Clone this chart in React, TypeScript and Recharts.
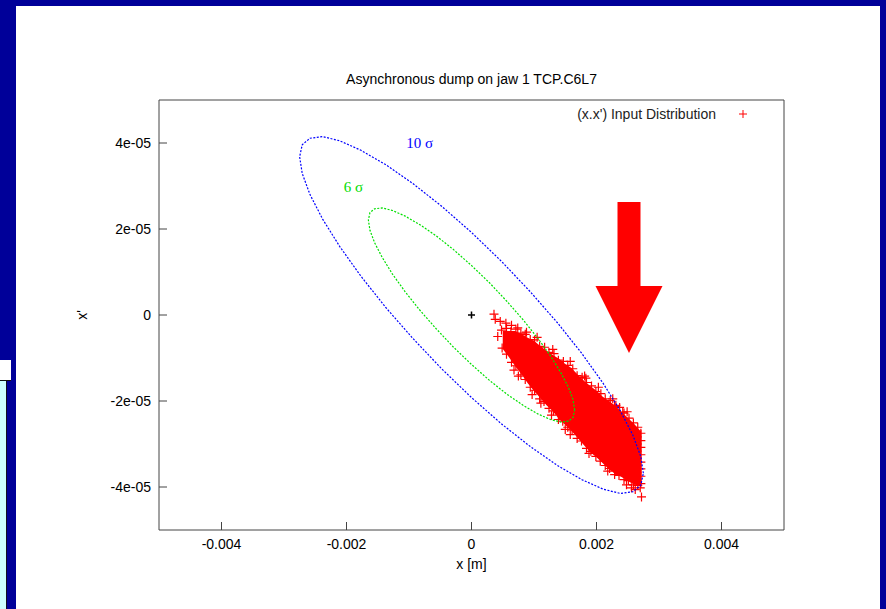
import { ComposedChart, Area, Scatter, XAxis, YAxis, ReferenceArea, ReferenceDot, Legend } from 'recharts'

const title = 'Asynchronous dump on jaw 1 TCP.C6L7'
const seriesName = "(x.x') Input Distribution"

const xTicks = [-0.004, -0.002, 0, 0.002, 0.004]
const xTickLabels = ['-0.004', '-0.002', '0', '0.002', '0.004']
const yTicks = [-4e-5, -2e-5, 0, 2e-5, 4e-5]
const yTickLabels = ['-4e-05', '-2e-05', '0', '2e-05', '4e-05']

// 10 sigma envelope
const blueEllipse = [
  [0.00275, -3.68e-5], [0.002708, -3.29e-5], [0.002584, -2.8e-5], [0.002382, -2.23e-5],
  [0.002107, -1.59e-5], [0.001768, -0.9e-5], [0.001375, -0.18e-5], [0.000941, 0.54e-5],
  [0.000478, 1.25e-5], [0, 1.92e-5], [-0.000478, 2.53e-5], [-0.000941, 3.06e-5],
  [-0.001375, 3.5e-5], [-0.001768, 3.83e-5], [-0.002107, 4.05e-5], [-0.002382, 4.15e-5],
  [-0.002584, 4.11e-5], [-0.002708, 3.96e-5], [-0.00275, 3.68e-5], [-0.002708, 3.29e-5],
  [-0.002584, 2.8e-5], [-0.002382, 2.23e-5], [-0.002107, 1.59e-5], [-0.001768, 0.9e-5],
  [-0.001375, 0.18e-5], [-0.000941, -0.54e-5], [-0.000478, -1.25e-5], [0, -1.92e-5],
  [0.000478, -2.53e-5], [0.000941, -3.06e-5], [0.001375, -3.5e-5], [0.001768, -3.83e-5],
  [0.002107, -4.05e-5], [0.002382, -4.15e-5], [0.002584, -4.11e-5], [0.002708, -3.96e-5],
  [0.00275, -3.68e-5],
]

// 6 sigma envelope
const greenEllipse = [
  [0.00165, -2.21e-5], [0.001625, -1.97e-5], [0.00155, -1.68e-5], [0.001429, -1.34e-5],
  [0.001264, -0.95e-5], [0.001061, -0.54e-5], [0.000825, -0.11e-5], [0.000565, 0.32e-5],
  [0.000287, 0.75e-5], [0, 1.15e-5], [-0.000287, 1.52e-5], [-0.000565, 1.84e-5],
  [-0.000825, 2.1e-5], [-0.001061, 2.3e-5], [-0.001264, 2.43e-5], [-0.001429, 2.49e-5],
  [-0.00155, 2.47e-5], [-0.001625, 2.38e-5], [-0.00165, 2.21e-5], [-0.001625, 1.97e-5],
  [-0.00155, 1.68e-5], [-0.001429, 1.34e-5], [-0.001264, 0.95e-5], [-0.001061, 0.54e-5],
  [-0.000825, 0.11e-5], [-0.000565, -0.32e-5], [-0.000287, -0.75e-5], [0, -1.15e-5],
  [0.000287, -1.52e-5], [0.000565, -1.84e-5], [0.000825, -2.1e-5], [0.001061, -2.3e-5],
  [0.001264, -2.43e-5], [0.001429, -2.49e-5], [0.00155, -2.47e-5], [0.001625, -2.38e-5],
  [0.00165, -2.21e-5],
]

// dense core of the distribution: x, upper x', lower x'
const coreX = [
  0.0005, 0.0006, 0.0007, 0.0008, 0.0009, 0.001, 0.0011, 0.0012, 0.0013, 0.0014, 0.0015, 0.0016,
  0.0017, 0.0018, 0.0019, 0.002, 0.0021, 0.0022, 0.0023, 0.0024, 0.0025, 0.0026, 0.0027, 0.00272,
]
const coreTop = [
  -0.37e-5, -0.37e-5, -0.37e-5, -0.44e-5, -0.53e-5, -0.6e-5, -0.72e-5, -0.83e-5, -0.93e-5, -1.02e-5,
  -1.14e-5, -1.23e-5, -1.39e-5, -1.53e-5, -1.65e-5, -1.76e-5, -1.9e-5, -2.0e-5, -2.11e-5, -2.25e-5,
  -2.39e-5, -2.53e-5, -2.69e-5, -2.67e-5,
]
const coreBottom = [
  -0.79e-5, -0.98e-5, -1.19e-5, -1.38e-5, -1.59e-5, -1.77e-5, -1.93e-5, -2.1e-5, -2.24e-5, -2.42e-5,
  -2.56e-5, -2.7e-5, -2.86e-5, -3.03e-5, -3.19e-5, -3.31e-5, -3.45e-5, -3.59e-5, -3.7e-5, -3.77e-5,
  -3.86e-5, -3.94e-5, -3.97e-5, -3.97e-5,
]

// individual particles visible around the edge of the core
const edgeParticles = [
  [0.00048, -0.35e-5], [0.00056, -0.31e-5], [0.00063, -0.39e-5], [0.00071, -0.33e-5], [0.00079, -0.42e-5],
  [0.00086, -0.45e-5], [0.00094, -0.57e-5], [0.00101, -0.58e-5], [0.00109, -0.73e-5], [0.00117, -0.75e-5],
  [0.00124, -0.87e-5], [0.00132, -0.9e-5], [0.00139, -1.05e-5], [0.00147, -1.08e-5], [0.00154, -1.17e-5],
  [0.00162, -1.25e-5], [0.00169, -1.41e-5], [0.00177, -1.45e-5], [0.00184, -1.57e-5], [0.00192, -1.65e-5],
  [0.00199, -1.78e-5], [0.00207, -1.83e-5], [0.00214, -1.95e-5], [0.00222, -1.99e-5], [0.00229, -2.13e-5],
  [0.00237, -2.15e-5], [0.00244, -2.28e-5], [0.00252, -2.4e-5], [0.00259, -2.51e-5], [0.00266, -2.61e-5],
  [0.00049, -0.77e-5], [0.00056, -0.91e-5], [0.00064, -1.1e-5], [0.00071, -1.18e-5], [0.00079, -1.39e-5],
  [0.00086, -1.5e-5], [0.00094, -1.68e-5], [0.00101, -1.75e-5], [0.00109, -1.95e-5], [0.00116, -2.01e-5],
  [0.00124, -2.17e-5], [0.00131, -2.23e-5], [0.00139, -2.43e-5], [0.00146, -2.47e-5], [0.00154, -2.61e-5],
  [0.00161, -2.67e-5], [0.00169, -2.87e-5], [0.00176, -2.93e-5], [0.00184, -3.1e-5], [0.00191, -3.17e-5],
  [0.00199, -3.29e-5], [0.00206, -3.4e-5], [0.00214, -3.5e-5], [0.00221, -3.57e-5], [0.00229, -3.71e-5],
  [0.00236, -3.73e-5], [0.00244, -3.83e-5], [0.00251, -3.85e-5], [0.00259, -3.95e-5], [0.00266, -3.96e-5],
  [0.00271, -2.75e-5], [0.00271, -2.92e-5], [0.00271, -3.08e-5], [0.00271, -3.25e-5], [0.00271, -3.42e-5],
  [0.00271, -3.58e-5], [0.00271, -3.75e-5], [0.00271, -3.92e-5], [0.0027, -4.02e-5],
]
const strayParticles = [
  [0.00036, 0.02e-5], [0.00038, -0.1e-5], [0.00046, -0.15e-5], [0.00055, -0.19e-5], [0.00064, -0.24e-5],
  [0.00074, -0.3e-5], [0.00042, -0.5e-5], [0.00075, -1.42e-5], [0.00111, -2.05e-5], [0.0015, -2.66e-5],
  [0.00242, -2.26e-5], [0.00231, -2.1e-5], [0.00272, -4.23e-5], [0.00256, -4.02e-5], [0.00183, -1.47e-5],
  [0.00088, -0.4e-5], [0.00105, -0.52e-5], [0.0013, -0.8e-5], [0.00158, -1.08e-5], [0.00181, -1.42e-5],
  [0.00203, -1.68e-5], [0.00226, -1.95e-5], [0.00249, -2.25e-5], [0.00068, -1.28e-5], [0.00097, -1.85e-5],
  [0.00128, -2.33e-5], [0.00158, -2.78e-5], [0.00188, -3.22e-5], [0.00218, -3.63e-5], [0.00248, -3.95e-5],
  [0.00262, -4.06e-5],
]

const closedOrbit = [[0, 0]]

const sigmaLabels = [
  { text: '10 σ', x: -0.00083, y: 4.0e-5, color: '#0000ff' },
  { text: '6 σ', x: -0.00189, y: 2.98e-5, color: '#00dd00' },
]

const FONT = '"Liberation Sans", Arial, Helvetica, sans-serif'

const toXY = (pts: number[][]) => pts.map(([x, y]) => ({ x, y }))
const coreData = coreX.map((x, i) => ({ x, range: [coreBottom[i], coreTop[i]] }))
const particles = toXY([...edgeParticles, ...strayParticles])

const plus = (color: string, half: number, w: number) => (props: any) => {
  const { cx, cy } = props
  if (cx == null || cy == null) return <g />
  return (
    <path
      d={`M${cx - half},${cy}H${cx + half}M${cx},${cy - half}V${cy + half}`}
      stroke={color}
      strokeWidth={w}
      fill="none"
    />
  )
}

const noMarker = () => <g />

const fmtX = (v: number) => {
  const i = xTicks.indexOf(v)
  return i >= 0 ? xTickLabels[i] : String(v)
}
const fmtY = (v: number) => {
  const i = yTicks.indexOf(v)
  return i >= 0 ? yTickLabels[i] : String(v)
}

const YLabel = (props: any) => {
  const vb = props.viewBox || { x: 99, y: 100, height: 430 }
  const x = vb.x - 17
  const y = vb.y + vb.height / 2
  return (
    <text x={x} y={y} transform={`rotate(-90 ${x} ${y})`} textAnchor="middle" dominantBaseline="central" fontSize={14} fontFamily={FONT} fill="#000">
      x'
    </text>
  )
}

const ArrowHead = (props: any) => {
  const { x, y, width, height } = props
  return <polygon points={`${x},${y} ${x + width},${y} ${x + width / 2},${y + height}`} fill="#ff0000" />
}

const LegendBox = () => (
  <div style={{ position: 'relative', width: 200, height: 20, fontFamily: FONT, fontSize: 14 }}>
    <span style={{ position: 'absolute', right: 44, top: 0, lineHeight: '20px', color: '#222', whiteSpace: 'nowrap' }}>{seriesName}</span>
    <svg style={{ position: 'absolute', left: 178, top: 5 }} width={10} height={10}>
      <path d="M1,5H9M5,1V9" stroke="#ff0000" strokeWidth={1} />
    </svg>
  </div>
)

export default function App() {
  const axisStroke = '#444'
  const tickStyle = { fontSize: 14, fill: '#000', fontFamily: FONT }
  return (
    <div style={{ position: 'fixed', left: 0, top: 0, width: 886, height: 609, background: '#000099', overflow: 'hidden' }}>
      <div style={{ position: 'absolute', left: 16, top: 6, width: 864, height: 603, background: '#ffffff' }} />
      <div style={{ position: 'absolute', left: 0, top: 360, width: 11, height: 20, background: '#ffffff', borderBottom: '1px solid #111' }} />
      <div style={{ position: 'absolute', left: 0, top: 381, width: 6, height: 228, background: '#ccffff', borderRight: '1px solid #112' }} />
      <div style={{ position: 'absolute', left: 0, top: 0 }}>
        <ComposedChart width={886} height={609} margin={{ top: 99, right: 101, bottom: 49, left: 99 }}>
          <XAxis
            type="number"
            dataKey="x"
            domain={[-0.005, 0.005]}
            ticks={xTicks}
            tickFormatter={fmtX}
            allowDataOverflow
            tickSize={-8}
            tickMargin={17}
            height={30}
            stroke={axisStroke}
            tick={tickStyle}
            label={{ value: 'x [m]', position: 'bottom', offset: -1, fontSize: 14, fontFamily: FONT, fill: '#000' }}
          />
          <XAxis
            xAxisId="top"
            orientation="top"
            type="number"
            dataKey="x"
            domain={[-0.005, 0.005]}
            ticks={xTicks}
            allowDataOverflow
            tickSize={-8}
            tick={false}
            height={1}
            stroke={axisStroke}
            label={{ value: title, position: 'top', offset: 15, fontSize: 14, fontFamily: FONT, fill: '#000' }}
          />
          <YAxis
            type="number"
            dataKey="y"
            domain={[-5e-5, 5e-5]}
            ticks={yTicks}
            tickFormatter={fmtY}
            allowDataOverflow
            tickSize={-8}
            tickMargin={16}
            width={60}
            stroke={axisStroke}
            tick={tickStyle}
            label={{ content: YLabel }}
          />
          <YAxis
            yAxisId="right"
            orientation="right"
            type="number"
            dataKey="y"
            domain={[-5e-5, 5e-5]}
            ticks={yTicks}
            allowDataOverflow
            tickSize={-8}
            tick={false}
            width={1}
            stroke={axisStroke}
          />
          <Legend content={LegendBox} verticalAlign="middle" layout="horizontal" wrapperStyle={{ position: 'absolute', top: 104, left: 560, width: 200, height: 20 }} />
          <Area data={coreData} dataKey="range" type="linear" stroke="none" fill="#ff0000" fillOpacity={1} dot={false} activeDot={false} isAnimationActive={false} />
          <Scatter data={particles} shape={plus('#ff0000', 4.5, 1.2)} isAnimationActive={false} />
          <Scatter data={toXY(closedOrbit)} shape={plus('#000000', 3.5, 1.5)} isAnimationActive={false} />
          <Scatter data={toXY(greenEllipse)} shape={noMarker} line={{ stroke: '#00e000', strokeWidth: 1.2, strokeDasharray: '2 1.5' }} isAnimationActive={false} />
          <Scatter data={toXY(blueEllipse)} shape={noMarker} line={{ stroke: '#0000ff', strokeWidth: 1.2, strokeDasharray: '2 1.5' }} isAnimationActive={false} />
          {sigmaLabels.map((s) => (
            <ReferenceDot
              key={s.text}
              x={s.x}
              y={s.y}
              r={0}
              fill="none"
              stroke="none"
              label={{ value: s.text, position: 'center', fill: s.color, fontSize: 15, fontFamily: '"Liberation Serif", "Times New Roman", serif' }}
            />
          ))}
          <ReferenceArea x1={0.002336} x2={0.002704} y1={0.674e-5} y2={2.628e-5} fill="#ff0000" fillOpacity={1} stroke="none" />
          <ReferenceArea x1={0.001984} x2={0.003056} y1={-0.884e-5} y2={0.674e-5} shape={ArrowHead} />
        </ComposedChart>
      </div>
    </div>
  )
}
